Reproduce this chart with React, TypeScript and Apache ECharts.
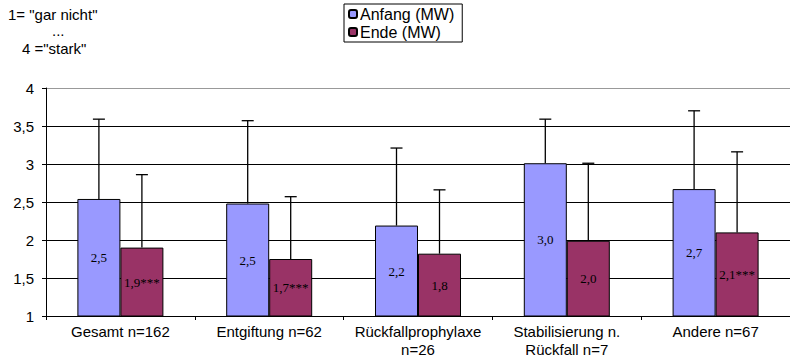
import React, { useEffect, useRef } from "react";
import * as echarts from "echarts";

const categories = [
  "Gesamt n=162",
  "Entgiftung n=62",
  "Rückfallprophylaxe\nn=26",
  "Stabilisierung n.\nRückfall n=7",
  "Andere n=67",
];
const anfangMean = [2.54, 2.48, 2.19, 3.01, 2.67];
const endeMean = [1.9, 1.75, 1.82, 1.99, 2.1];
const anfangUpper = [3.59, 3.57, 3.21, 3.59, 3.7];
const endeUpper = [2.86, 2.57, 2.66, 3.01, 3.16];
const anfangLabels = ["2,5", "2,5", "2,2", "3,0", "2,7"];
const endeLabels = ["1,9***", "1,7***", "1,8", "2,0", "2,1***"];
const noteLines = ['1= "gar nicht"', "...", '4 ="stark"'];

const BAR_W = 43;

export default function App() {
  const ref = useRef<HTMLDivElement>(null);
  useEffect(() => {
    if (!ref.current) return;
    const chart = echarts.init(ref.current, undefined, { renderer: "svg" });
    const errSeries = (upper: number[], mean: number[], dir: number) => ({
      type: "custom",
      silent: true,
      z: 5,
      data: upper.map((u, i) => [i, mean[i], u]),
      renderItem: (params: any, api: any) => {
        const idx = api.value(0);
        const lo = api.coord([idx, api.value(1)]);
        const hi = api.coord([idx, api.value(2)]);
        const x = lo[0] + (dir * BAR_W) / 2;
        return {
          type: "group",
          children: [
            {
              type: "line",
              shape: { x1: x, y1: lo[1], x2: x, y2: hi[1] },
              style: { stroke: "#000", lineWidth: 1.3 },
            },
            {
              type: "line",
              shape: { x1: x - 6, y1: hi[1], x2: x + 6, y2: hi[1] },
              style: { stroke: "#000", lineWidth: 1.3 },
            },
          ],
        };
      },
    });
    const labelStyle = {
      show: true,
      position: "inside",
      fontFamily: "Liberation Serif",
      fontSize: 13,
      color: "#000",
    };
    const noteFont = "15px Liberation Sans";
    chart.setOption({
      animation: false,
      grid: { left: 46, right: 0, top: 88, bottom: 45, containLabel: false },
      legend: {
        orient: "vertical",
        left: 344,
        top: 4,
        data: ["Anfang (MW)", "Ende (MW)"],
        itemWidth: 8,
        itemHeight: 8,
        itemGap: 2,
        padding: [2, 8, 2, 4],
        borderColor: "#000",
        borderWidth: 1,
        textStyle: { fontFamily: "Liberation Sans", fontSize: 16, color: "#000", padding: [0, 0, 0, -2] },
      },
      graphic: [
        { type: "text", left: 8, top: 7, style: { text: noteLines[0], font: noteFont, fill: "#000" } },
        { type: "text", left: 52, top: 23, style: { text: noteLines[1], font: noteFont, fill: "#000" } },
        { type: "text", left: 22, top: 41, style: { text: noteLines[2], font: noteFont, fill: "#000" } },
      ],
      xAxis: {
        type: "category",
        data: categories,
        axisLine: { lineStyle: { color: "#000", width: 1 } },
        axisTick: { show: true, length: 4, lineStyle: { color: "#000" } },
        axisLabel: {
          fontFamily: "Liberation Sans",
          fontSize: 15,
          color: "#000",
          lineHeight: 18,
          margin: 6,
          interval: 0,
        },
      },
      yAxis: {
        type: "value",
        min: 1,
        max: 4,
        interval: 0.5,
        axisLine: { show: true, lineStyle: { color: "#000", width: 1 } },
        axisTick: { show: true, length: 4, lineStyle: { color: "#000" } },
        axisLabel: {
          fontFamily: "Liberation Sans",
          fontSize: 15,
          color: "#000",
          margin: 12,
          formatter: (v: number) => String(v).replace(".", ","),
        },
        splitLine: {
          show: true,
          lineStyle: {
            color: ["#000", "#000", "#000", "#000", "#000", "#000", "#999"],
            width: 1,
          },
        },
      },
      series: [
        {
          name: "Anfang (MW)",
          type: "bar",
          barWidth: BAR_W,
          barGap: "0%",
          data: anfangMean,
          itemStyle: { color: "#9999FF", borderColor: "#000", borderWidth: 1 },
          label: { ...labelStyle, formatter: (p: any) => anfangLabels[p.dataIndex] },
        },
        {
          name: "Ende (MW)",
          type: "bar",
          barWidth: BAR_W,
          barGap: "0%",
          data: endeMean,
          itemStyle: { color: "#993366", borderColor: "#000", borderWidth: 1 },
          label: { ...labelStyle, formatter: (p: any) => endeLabels[p.dataIndex] },
        },
        errSeries(anfangUpper, anfangMean, -1),
        errSeries(endeUpper, endeMean, 1),
      ],
    });
    return () => chart.dispose();
  }, []);
  return <div ref={ref} style={{ width: 790, height: 361, position: "absolute", left: 0, top: 0 }} />;
}
